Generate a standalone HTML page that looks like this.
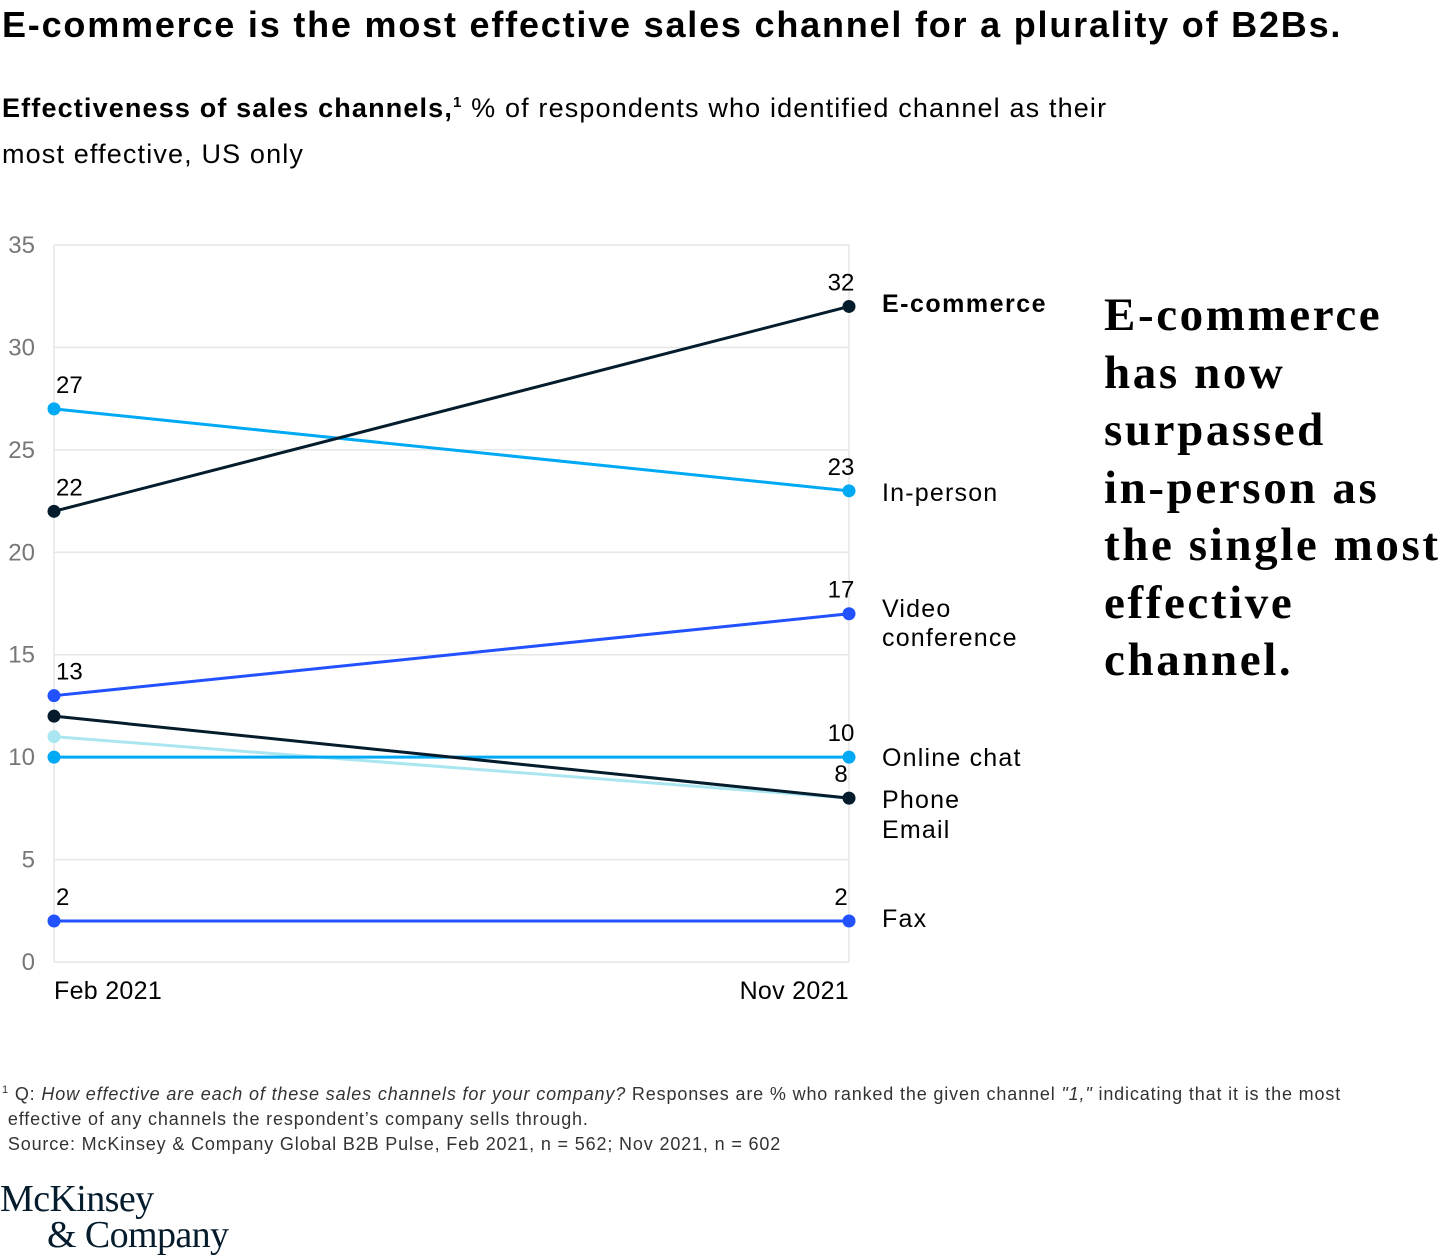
<!DOCTYPE html>
<html><head><meta charset="utf-8"><style>
body{margin:0;width:1449px;height:1258px;background:#fff;font-family:"Liberation Sans",sans-serif;color:#000;position:relative;overflow:hidden}
.abs{position:absolute;margin:0}
</style></head><body>
<h1 class="abs" style="left:2px;top:4px;font-size:36px;font-weight:bold;letter-spacing:1.8px;white-space:nowrap">E-commerce is the most effective sales channel for a plurality of B2Bs.</h1>
<div class="abs" style="left:2px;top:80px;font-size:27px;line-height:46px;width:1130px;letter-spacing:1.15px"><b>Effectiveness of sales channels,</b><sup style="font-size:15px;font-weight:bold">1</sup> % of respondents who identified channel as their most effective, US only</div>
<svg class="abs" style="left:0;top:0" width="1449" height="1258">
<g id="grid"></g><g id="series"></g><g id="labels"></g>
</svg>
<div class="abs" style="left:1104px;top:287px;font-family:'Liberation Serif',serif;font-weight:bold;font-size:47px;line-height:57.5px;letter-spacing:2.6px;white-space:nowrap">E-commerce<br>has now<br>surpassed<br>in-person as<br>the single most<br>effective<br>channel.</div>
<div class="abs" style="left:2px;top:1078px;font-size:18px;line-height:25px;color:#333;letter-spacing:0.85px;white-space:nowrap"><sup style="font-size:11px">1</sup> Q: <i>How effective are each of these sales channels for your company?</i> Responses are % who ranked the given channel <i>"1,"</i> indicating that it is the most<br>&nbsp;effective of any channels the respondent’s company sells through.<br>&nbsp;Source: McKinsey &amp; Company Global B2B Pulse, Feb 2021, n = 562; Nov 2021, n = 602</div>
<div class="abs" style="left:0;top:1181px;font-family:'Liberation Serif',serif;font-size:38px;line-height:36px;color:#051C2C;letter-spacing:-0.6px;white-space:nowrap">McKinsey<br><span style="padding-left:47px">&amp; Company</span></div>
<script>
const periods=["Feb 2021","Nov 2021"];
const yTicks=[0,5,10,15,20,25,30,35];
const ecommerce=[22,32];
const inperson=[27,23];
const video=[13,17];
const chat=[10,10];
const phone=[12,8];
const email=[11,8];
const fax=[2,2];
const NS="http://www.w3.org/2000/svg";
const x0=54,x1=849,yb=962,yt=245,ymax=35;
const X=i=>x0+(x1-x0)*i/(periods.length-1);
const Y=v=>yb-(yb-yt)*v/ymax;
function mk(tag,attrs,parent,txt){const e=document.createElementNS(NS,tag);for(const k in attrs)e.setAttribute(k,attrs[k]);if(txt!=null)e.textContent=txt;document.getElementById(parent).appendChild(e);return e;}
yTicks.forEach(t=>{
 const l=mk("line",{x1:x0,x2:x1,y1:Y(t),y2:Y(t),stroke:"#e6e6e6","stroke-width":1.5},"grid");
 
 
 const tx=mk("text",{x:35,y:Y(t)+8,"text-anchor":"end","font-size":24,fill:"#777","font-family":"Liberation Sans"},"grid",t);
 
 
});
[x0,x1].forEach(x=>{const l=mk("line",{x1:x,x2:x,y1:yt,y2:yb,stroke:"#e6e6e6","stroke-width":1.5},"grid");
 
 });
periods.forEach((p,i)=>{const t=mk("text",{x:i?x1:x0,y:999,"text-anchor":i?"end":"start","font-size":25,"letter-spacing":0.3,fill:"#000","font-family":"Liberation Sans"},"labels",p);
 
 });
const defs=[
 [email,"#AAE6F0",null,false,false],
 [chat,"#00A9F4",[["Online chat",757]],false,true],
 [phone,"#051C2C",[["Phone",799],["Email",829]],false,false],
 [fax,"#2251FF",[["Fax",918]],true,true],
 [video,"#2251FF",[["Video",608],["conference",637]],true,true],
 [inperson,"#00A9F4",[["In-person",492]],true,true],
 [ecommerce,"#051C2C",[["E-commerce",303]],true,true]
];
defs.forEach(([d,c,lab,showL,showR])=>{
 const pl=mk("polyline",{points:d.map((v,i)=>X(i)+","+Y(v)).join(" "),fill:"none",stroke:c,"stroke-width":3},"series");
 
 
 d.forEach((v,i)=>{const ci=mk("circle",{cx:X(i),cy:Y(v),r:6.5,fill:c},"series");
  
  
  if((i===0&&showL)||(i===1&&(showR||d===phone))){
   const t=mk("text",{x:i?X(i)-8:X(i)+2,y:Y(v)-16,"text-anchor":i?"middle":"start","font-size":24,fill:"#000","font-family":"Liberation Sans"},"labels",v);
   
   
  }});
 if(lab)lab.forEach(([s,y])=>{const t=mk("text",{x:882,y:y+9,"font-size":25,"letter-spacing":s==="E-commerce"?1.5:1.2,fill:"#000","font-weight":s==="E-commerce"?"bold":"normal","font-family":"Liberation Sans"},"labels",s);
  
  });
});
</script>
</body></html>
